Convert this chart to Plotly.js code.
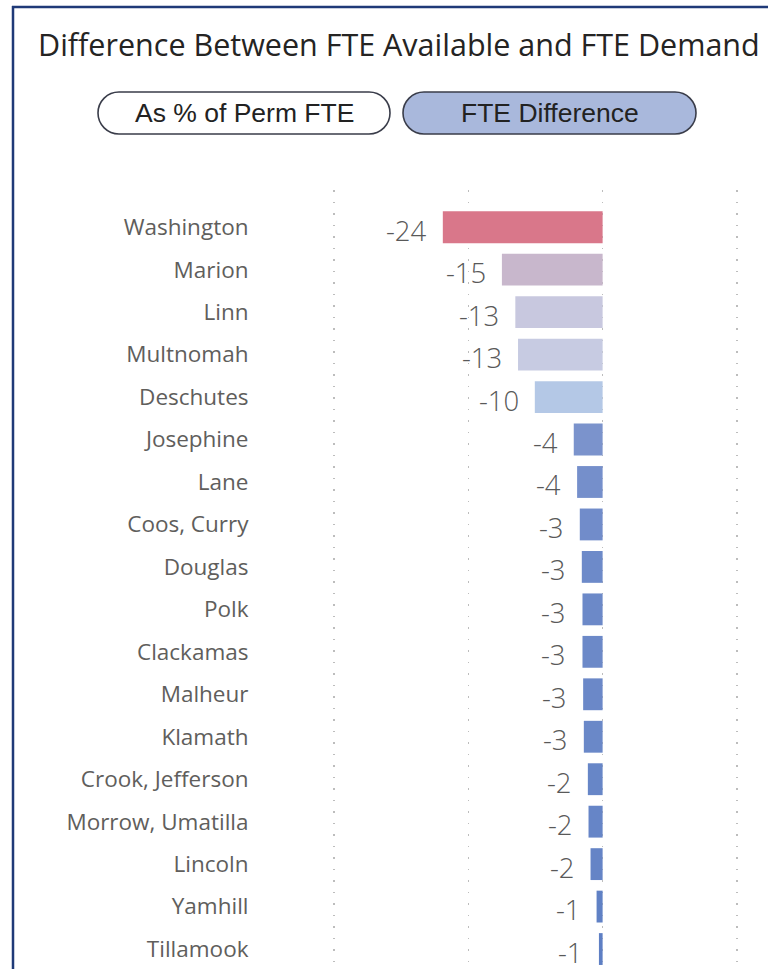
<!DOCTYPE html>
<html>
<head>
<meta charset="utf-8">
<script src="https://cdn.plot.ly/plotly-3.0.1.min.js"></script>
<style>
  html, body { margin: 0; padding: 0; background: #ffffff; }
  #chart { width: 768px; height: 969px; }
</style>
</head>
<body>
<div id="chart"></div>
<script>
// ---- data ----
const counties = ["Washington", "Marion", "Linn", "Multnomah", "Deschutes", "Josephine", "Lane",
  "Coos, Curry", "Douglas", "Polk", "Clackamas", "Malheur", "Klamath", "Crook, Jefferson",
  "Morrow, Umatilla", "Lincoln", "Yamhill", "Tillamook"];
const fteDifference = [-23.8, -15.0, -13.0, -12.6, -10.1, -4.3, -3.8, -3.4, -3.1, -3.0, -3.0,
  -2.9, -2.8, -2.2, -2.1, -1.8, -0.9, -0.55];
const gridValues = [-40, -20, 0, 20];
const buttonLabels = ["As % of Perm FTE", "FTE Difference"];
const chartTitle = "Difference Between FTE Available and FTE Demand";

// ---- layout geometry (pixels) ----
const W = 768, H = 969, ML = 300, MR = 0, MT = 190, MB = 0;
const PW = W - ML - MR, PH = H - MT - MB;
const px2x = p => (p - ML) / PW;
const py2y = p => (H - MB - p) / PH;

function pill(x0, y0, x1, y1) {
  const r = (y1 - y0) / 2, k = 0.5523 * r;
  const P = (x, y) => px2x(x).toFixed(5) + "," + py2y(y).toFixed(5);
  return "M" + P(x0 + r, y0) +
    " L" + P(x1 - r, y0) +
    " C" + P(x1 - r + k, y0) + " " + P(x1, y0 + r - k) + " " + P(x1, y0 + r) +
    " C" + P(x1, y0 + r + k) + " " + P(x1 - r + k, y1) + " " + P(x1 - r, y1) +
    " L" + P(x0 + r, y1) +
    " C" + P(x0 + r - k, y1) + " " + P(x0, y1 - r + k) + " " + P(x0, y1 - r) +
    " C" + P(x0, y1 - r - k) + " " + P(x0 + r - k, y0) + " " + P(x0 + r, y0) + " Z";
}

const barTrace = {
  type: "bar",
  orientation: "h",
  x: fteDifference,
  y: counties,
  marker: {
    color: fteDifference,
    cmin: -24, cmax: -0.5,
    colorscale: [
      [0, "#D97689"], [0.38, "#C8B6CB"], [0.48, "#C8CBE2"], [0.59, "#B4C8E6"],
      [0.84, "#7B93CC"], [0.9, "#6A88C8"], [1, "#5E7FC4"]
    ],
    showscale: false,
    line: { width: 0 }
  },
  hoverinfo: "x+y",
  showlegend: false
};

const valueAnnotations = counties.map((c, i) => ({
  x: fteDifference[i], y: c, xref: "x", yref: "y",
  text: String(Math.round(fteDifference[i])),
  showarrow: false, xanchor: "right", yanchor: "middle",
  xshift: -14, yshift: -3,
  font: { family: "Open Sans, Noto Sans, sans-serif", size: 27.5, color: "#595959", weight: 300 }
}));

const buttons = [
  { x0: 98, x1: 390, fill: "#ffffff", text: buttonLabels[0] },
  { x0: 403, x1: 696, fill: "#A9B8DC", text: buttonLabels[1] }
];
const by0 = 92, by1 = 134;

const shapes = [
  // frame
  { type: "line", xref: "paper", yref: "paper", x0: px2x(13), x1: px2x(13), y0: py2y(6), y1: py2y(975),
    line: { color: "#1F3A78", width: 2.5 } },
  { type: "line", xref: "paper", yref: "paper", x0: px2x(12), x1: px2x(780), y0: py2y(7), y1: py2y(7),
    line: { color: "#1F3A78", width: 2.5 } }
].concat(buttons.map(b => ({
  type: "path", xref: "paper", yref: "paper", path: pill(b.x0, by0, b.x1, by1),
  fillcolor: b.fill, line: { color: "#3A3D4A", width: 1.6 }, layer: "above"
})));

const buttonAnnotations = buttons.map(b => ({
  xref: "paper", yref: "paper", x: px2x((b.x0 + b.x1) / 2), y: py2y((by0 + by1) / 2),
  text: b.text, showarrow: false, xanchor: "center", yanchor: "middle",
  font: { family: "Liberation Sans, Arial, sans-serif", size: 26.5, color: "#222222" }
}));

const layout = {
  width: W, height: H,
  margin: { l: ML, r: MR, t: MT, b: MB, pad: 0 },
  paper_bgcolor: "#ffffff", plot_bgcolor: "#ffffff",
  title: {
    text: chartTitle,
    x: 38 / W, xanchor: "left", xref: "container",
    y: 1 - 45 / H, yanchor: "middle", yref: "container",
    font: { family: "Open Sans, Noto Sans, sans-serif", size: 30.5, color: "#252423" }
  },
  bargap: 0.25,
  xaxis: {
    range: [-45.07, 24.63], autorange: false,
    tickmode: "array", tickvals: gridValues, showticklabels: false,
    showgrid: true, gridcolor: "#BDBDBD", gridwidth: 1.5, griddash: "1.5px,10px",
    zeroline: false, showline: false, ticks: "", fixedrange: true
  },
  yaxis: {
    type: "category", categoryorder: "array", categoryarray: counties,
    range: [17.47, -0.877], autorange: false,
    showgrid: false, zeroline: false, showline: false,
    ticks: "outside", ticklen: 46, tickcolor: "rgba(0,0,0,0)",
    tickfont: { family: "Open Sans, Noto Sans, sans-serif", size: 22.5, color: "#605E5C" },
    fixedrange: true
  },
  shapes: shapes,
  annotations: valueAnnotations.concat(buttonAnnotations)
};

Plotly.newPlot("chart", [barTrace], layout, { displayModeBar: false, staticPlot: true });
</script>
</body>
</html>
